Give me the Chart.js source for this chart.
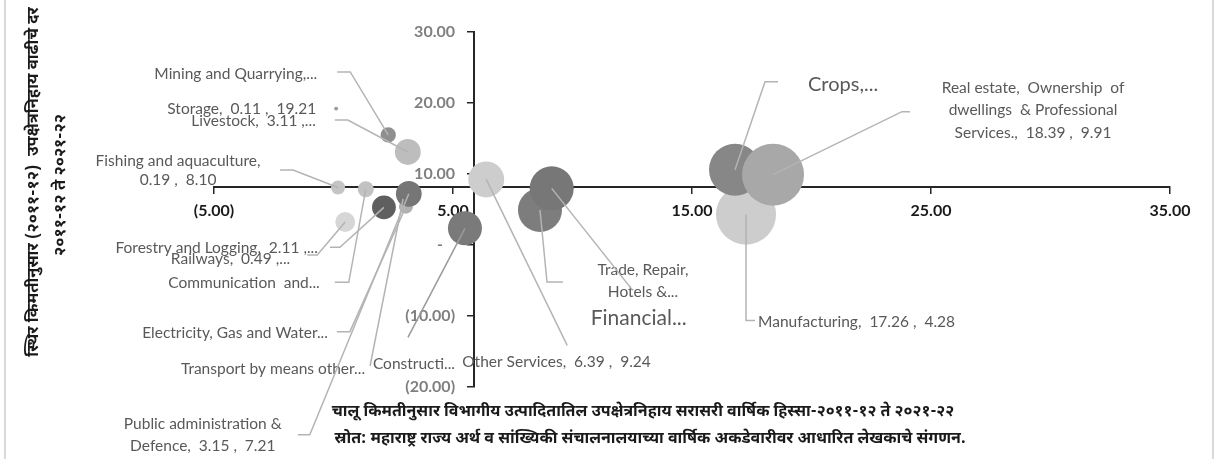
<!DOCTYPE html>
<html>
<head>
<meta charset="utf-8">
<script src="https://cdn.jsdelivr.net/npm/chart.js@4.4.0/dist/chart.umd.min.js"></script>
<style>
  html, body { margin: 0; padding: 0; background: #fff; }
</style>
</head>
<body>
<canvas id="myChartBubble" width="1224" height="459"></canvas>
<script>
// sectors (drawing order), share of GSVA at current prices (x), growth at constant prices (y)
const sectors = [
  'Manufacturing', 'Crops', 'Livestock', 'Forestry and Logging', 'Fishing and aquaculture',
  'Mining and Quarrying', 'Electricity, Gas and Water Supply', 'Construction',
  'Trade, Repair, Hotels & Restaurants', 'Railways', 'Transport by means other than Railways',
  'Storage', 'Communication and Broadcasting', 'Financial Services',
  'Real estate, Ownership of dwellings & Professional Services', 'Public administration & Defence',
  'Other Services'
];
const sharePct  = [17.26, 16.80, 3.11, 2.11, 0.19, 2.29, 3.03, 5.50, 8.64, 0.49, 2.91, 0.11, 1.35, 9.13, 18.39, 3.15, 6.39];
const growthPct = [4.28, 10.60, 13.10, 5.30, 8.10, 15.50, 5.40, 2.35, 4.93, 3.24, 6.48, 19.21, 7.85, 7.98, 9.91, 7.21, 9.24];
const bubbleSize = [18.4, 13.8, 3.4, 2.9, 1.0, 1.2, 1.0, 5.9, 9.9, 2.0, 0.6, 0.08, 1.3, 9.9, 19.6, 3.4, 6.6];

// where the axes cross (averages)
const xCross = 5.88;
const yCross = 8.17;

const xTicks = [-5, 5, 15, 25, 35];
const yTicks = [-20, -10, 0, 10, 20, 30];

const yTitle = ['स्थिर किमतीनुसार (२०११-१२)  उपक्षेत्रनिहाय वाढीचे दर', '२०११-१२ ते २०२१-२२'];
const xTitle = ['चालू किमतीनुसार विभागीय उत्पादितातिल उपक्षेत्रनिहाय सरासरी वार्षिक हिस्सा-२०११-१२ ते २०२१-२२',
                'स्रोत: महाराष्ट्र राज्य अर्थ व सांख्यिकी संचालनालयाच्या वार्षिक अकडेवारीवर आधारित लेखकाचे संगणन.'];

// styling, one per sector
const fills = ['#cdcdcd', '#878787', '#bdbdbd', '#5f5f5f', '#c4c4c4', '#8f8f8f', '#b0b0b0', '#7a7a7a',
               '#7d7d7d', '#d6d6d6', '#a0a0a0', '#9a9a9a', '#c2c2c2', '#777777', '#a8a8a8', '#767676', '#cdcdcd'];

// label text + placement relative to the bubble (px)
const labelSpecs = [
  {lines: ['Manufacturing,  17.26 ,  4.28'], align: 'left', dx: 12, dy: 107, leader: [[0, 106], [9, 106]]},
  {lines: ['Crops,...'], align: 'left', dx: 73, dy: -85, size: 20, leader: [[30, -88], [43, -88]]},
  {lines: ['Livestock,  3.11 ,...'], align: 'right', dx: -92, dy: -31, leader: [[-60, -32], [-73, -32]]},
  {lines: ['Forestry and Logging,  2.11 ,...'], align: 'right', dx: -66, dy: 41, leader: [[-44, 40], [-54, 40]]},
  {lines: ['Fishing and aquaculture,', '0.19 ,  8.10'], align: 'center', dx: -160, dy: -26.5, lh: 19, leader: [[-45, -17.5], [-58, -17.5]]},
  {lines: ['Mining and Quarrying,...'], align: 'right', dx: -71, dy: -61, leader: [[-38, -63], [-51, -63]]},
  {lines: ['Electricity, Gas and Water...'], align: 'right', dx: -78, dy: 126, leader: [[-56, 125], [-69, 125]]},
  {lines: ['Constructi...'], align: 'center', dx: -51, dy: 136, leader: [[-57, 109]], leaderColor: '#9a9a9a'},
  {lines: ['Trade, Repair,', 'Hotels &...'], align: 'center', dx: 103, dy: 60, lh: 22, leader: [[7, 72], [23, 72]]},
  {lines: ['Railways,  0.49 ,...'], align: 'right', dx: -55, dy: 37, leader: [[-28, 33], [-38, 33]]},
  {lines: ['Transport by means other...'], align: 'right', dx: -38, dy: 170, leader: [[-33, 167]]},
  {lines: ['Storage,  0.11 ,  19.21'], align: 'right', dx: -20, dy: 0, leader: []},
  {lines: ['Communication  and...'], align: 'right', dx: -46, dy: 94, leader: [[-17, 93], [-31, 93]]},
  {lines: ['Financial...'], align: 'center', dx: 87, dy: 130, size: 21, leader: [[81, 102]]},
  {lines: ['Real estate,  Ownership  of', 'dwellings  & Professional', 'Services.,  18.39 ,  9.91'], align: 'center', dx: 260, dy: -87, lh: 22.5, leader: [[129, -63], [137, -63]]},
  {lines: ['Public administration &', 'Defence,  3.15 ,  7.21'], align: 'center', dx: -206, dy: 230, lh: 22, leader: [[-99, 241], [-111, 241]]},
  {lines: ['Other Services,  6.39 ,  9.24'], align: 'left', dx: -24, dy: 183, leader: [[81, 166]]}
];

function fmtTick(v) {
  if (v === 0) return '-';
  const s = Math.abs(v).toFixed(2);
  return v < 0 ? '(' + s + ')' : s;
}

const labelFont = 'Lato, "Open Sans", sans-serif';
const devaFont = '"Noto Sans Devanagari", "Lohit Devanagari", "Mangal", "Noto Sans", sans-serif';

// y tick labels sit left of the crossing axis, with a gap like Excel's
const yTickLabels = {
  id: 'yTickLabels',
  beforeDatasetsDraw(chart) {
    const ctx = chart.ctx;
    const axisX = chart.scales.x.getPixelForValue(xCross);
    ctx.save();
    ctx.fillStyle = '#7f7f7f';
    ctx.font = 'bold 16px ' + labelFont;
    ctx.textAlign = 'right';
    ctx.textBaseline = 'middle';
    yTicks.forEach(function(v) {
      const gap = v === 0 ? 31 : 19;
      ctx.fillText(fmtTick(v), axisX - gap, chart.scales.y.getPixelForValue(v));
    });
    ctx.restore();
  }
};

const sectorLabels = {
  id: 'sectorLabels',
  afterDatasetsDraw(chart) {
    const ctx = chart.ctx;
    const meta = chart.getDatasetMeta(0);
    ctx.save();
    meta.data.forEach(function(pt, i) {
      const spec = labelSpecs[i];
      const cx = pt.x, cy = pt.y;
      if (spec.leader.length) {
        ctx.beginPath();
        ctx.moveTo(cx, cy);
        spec.leader.forEach(function(p) { ctx.lineTo(cx + p[0], cy + p[1]); });
        ctx.strokeStyle = spec.leaderColor || '#b4b4b4';
        ctx.lineWidth = 1.5;
        ctx.stroke();
      }
      ctx.fillStyle = '#595959';
      ctx.font = (spec.size || 15.5) + 'px ' + labelFont;
      ctx.textAlign = spec.align;
      ctx.textBaseline = 'middle';
      spec.lines.forEach(function(line, k) {
        ctx.fillText(line, cx + spec.dx, cy + spec.dy + k * (spec.lh || 18));
      });
    });
    ctx.restore();
  }
};

const frameAndTitles = {
  id: 'frameAndTitles',
  beforeDraw(chart) {
    const ctx = chart.ctx;
    ctx.save();
    ctx.fillStyle = '#fff';
    ctx.fillRect(0, 0, chart.width, chart.height);
    ctx.strokeStyle = '#d9d9d9';
    ctx.lineWidth = 2;
    ctx.beginPath();
    ctx.moveTo(5, 0); ctx.lineTo(5, chart.height);
    ctx.moveTo(1213, 0); ctx.lineTo(1213, chart.height);
    ctx.stroke();
    ctx.restore();
  },
  afterDraw(chart) {
    const ctx = chart.ctx;
    ctx.save();
    ctx.fillStyle = '#1a1a1a';
    ctx.font = 'bold 16px ' + devaFont;
    ctx.textAlign = 'center';
    ctx.textBaseline = 'middle';
    ctx.fillText(xTitle[0], 643, 413);
    ctx.fillText(xTitle[1], 650, 440);
    ctx.translate(35, 182);
    ctx.rotate(-Math.PI / 2);
    ctx.font = 'bold 16.5px ' + devaFont;
    ctx.fillText(yTitle[0], 0, 0);
    ctx.fillText(yTitle[1], -3, 27);
    ctx.restore();
  }
};

const ctxBubble = document.getElementById('myChartBubble').getContext('2d');
const myChartBubble = new Chart(ctxBubble, {
  type: 'bubble',
  data: {
    datasets: [{
      label: 'Sectors',
      data: sectors.map(function(s, i) {
        return {x: sharePct[i], y: growthPct[i], r: Math.sqrt(bubbleSize[i]) * 7};
      }),
      backgroundColor: fills,
      borderWidth: 0
    }]
  },
  options: {
    responsive: false,
    animation: false,
    events: [],
    layout: { padding: {left: 214, right: 54, top: 32, bottom: 72} },
    plugins: { legend: {display: false}, tooltip: {enabled: false} },
    scales: {
      x: {
        type: 'linear',
        min: -5, max: 35,
        position: {y: yCross},
        afterBuildTicks: function(axis) { axis.ticks = xTicks.map(function(v) { return {value: v}; }); },
        ticks: {
          callback: fmtTick, color: '#1a1a1a', padding: 8,
          font: {family: labelFont, weight: 'bold', size: 16},
          maxRotation: 0
        },
        grid: {drawOnChartArea: false, drawTicks: true, tickLength: 6, color: '#262626', lineWidth: 1.5},
        border: {display: true, color: '#262626', width: 2}
      },
      y: {
        type: 'linear',
        min: -20, max: 30,
        position: {x: xCross},
        afterBuildTicks: function(axis) { axis.ticks = yTicks.map(function(v) { return {value: v}; }); },
        ticks: { display: false },
        grid: {drawOnChartArea: false, drawTicks: true, tickLength: 6, color: '#262626', lineWidth: 1.5},
        border: {display: true, color: '#262626', width: 2}
      }
    }
  },
  plugins: [frameAndTitles, yTickLabels, sectorLabels]
});
</script>
</body>
</html>
